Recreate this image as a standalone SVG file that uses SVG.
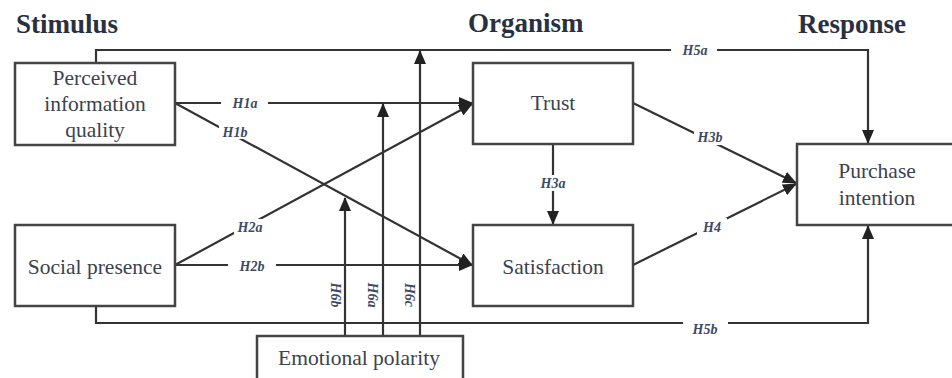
<svg xmlns="http://www.w3.org/2000/svg" width="952" height="378" viewBox="0 0 952 378">
<style>
.box{fill:#fff;stroke:#444;stroke-width:2.5}
.ln{fill:none;stroke:#333;stroke-width:2.2}
.t{font-family:"Liberation Serif","Times New Roman",serif;font-size:21.5px;fill:#3c4250;text-anchor:middle}
.h{font-family:"Liberation Serif","Times New Roman",serif;font-size:27px;font-weight:bold;fill:#2a3040}
.lb{font-family:"Liberation Serif","Times New Roman",serif;font-size:14px;font-weight:bold;font-style:italic;fill:#3c4a66;text-anchor:middle;dominant-baseline:central}
.gap{fill:#fff}
</style>
<defs>
<marker id="ah" markerUnits="userSpaceOnUse" markerWidth="14" markerHeight="12" viewBox="0 0 14 12" refX="13" refY="6" orient="auto">
<path d="M0,0 L14,6 L0,12 Z" fill="#222"/>
</marker>
</defs>
<rect width="952" height="378" fill="#fff"/>
<g id="headers">
<text class="h" x="16" y="33">Stimulus</text>
<text class="h" x="468" y="32">Organism</text>
<text class="h" x="798" y="33">Response</text>
</g>
<g id="connectors">
<polyline class="ln" points="96,63 96,50 868,50 868,143" marker-end="url(#ah)"/>
<polyline class="ln" points="96,306 96,323 868,323 868,226" marker-end="url(#ah)"/>
<line class="ln" x1="175" y1="103" x2="472" y2="103" marker-end="url(#ah)"/>
<line class="ln" x1="175" y1="103" x2="472" y2="265" marker-end="url(#ah)"/>
<line class="ln" x1="175" y1="265" x2="472" y2="104" marker-end="url(#ah)"/>
<line class="ln" x1="175" y1="265" x2="472" y2="265" marker-end="url(#ah)"/>
<line class="ln" x1="553" y1="144" x2="553" y2="224" marker-end="url(#ah)"/>
<line class="ln" x1="633" y1="103" x2="796" y2="183" marker-end="url(#ah)"/>
<line class="ln" x1="633" y1="265" x2="796" y2="184" marker-end="url(#ah)"/>
<line class="ln" x1="345" y1="336" x2="345" y2="198" marker-end="url(#ah)"/>
<line class="ln" x1="383" y1="336" x2="383" y2="104" marker-end="url(#ah)"/>
<line class="ln" x1="420" y1="336" x2="420" y2="51" marker-end="url(#ah)"/>
<rect class="gap" x="671" y="44" width="46" height="12"/>
<text class="lb" x="695" y="50">H5a</text>
<rect class="gap" x="683" y="317" width="45" height="14"/>
<text class="lb" x="705" y="329">H5b</text>
<rect class="gap" x="221" y="97" width="47" height="12"/>
<text class="lb" x="245" y="103">H1a</text>
<rect class="gap" x="219" y="125" width="32" height="14"/>
<text class="lb" x="235" y="132">H1b</text>
<rect class="gap" x="234" y="219" width="32" height="15"/>
<text class="lb" x="250" y="227">H2a</text>
<rect class="gap" x="228" y="259" width="48" height="13"/>
<text class="lb" x="252" y="266">H2b</text>
<rect class="gap" x="539" y="175" width="28" height="16"/>
<text class="lb" x="553" y="183">H3a</text>
<rect class="gap" x="694" y="129" width="32" height="16"/>
<text class="lb" x="710" y="137">H3b</text>
<rect class="gap" x="697" y="218" width="30" height="17"/>
<text class="lb" x="712" y="227">H4</text>
<text class="lb" transform="translate(335,295) rotate(90)">H6b</text>
<text class="lb" transform="translate(372,295) rotate(90)">H6a</text>
<text class="lb" transform="translate(409,295) rotate(90)">H6c</text>
</g>
<g id="piq">
<rect class="box" x="15" y="63" width="160" height="82"/>
<text class="t" x="95" y="85">Perceived</text>
<text class="t" x="95" y="111">information</text>
<text class="t" x="95" y="137">quality</text>
</g>
<g id="social">
<rect class="box" x="15" y="225" width="160" height="81"/>
<text class="t" x="95" y="274">Social presence</text>
</g>
<g id="trust">
<rect class="box" x="473" y="63" width="160" height="81"/>
<text class="t" x="553" y="110">Trust</text>
</g>
<g id="satisfaction">
<rect class="box" x="473" y="225" width="160" height="81"/>
<text class="t" x="553" y="274">Satisfaction</text>
</g>
<g id="purchase">
<rect class="box" x="797" y="144" width="162" height="81"/>
<text class="t" x="877" y="178">Purchase</text>
<text class="t" x="877" y="205">intention</text>
</g>
<g id="emotional">
<rect class="box" x="257" y="336" width="206" height="56"/>
<text class="t" x="359" y="365">Emotional polarity</text>
</g>
</svg>
